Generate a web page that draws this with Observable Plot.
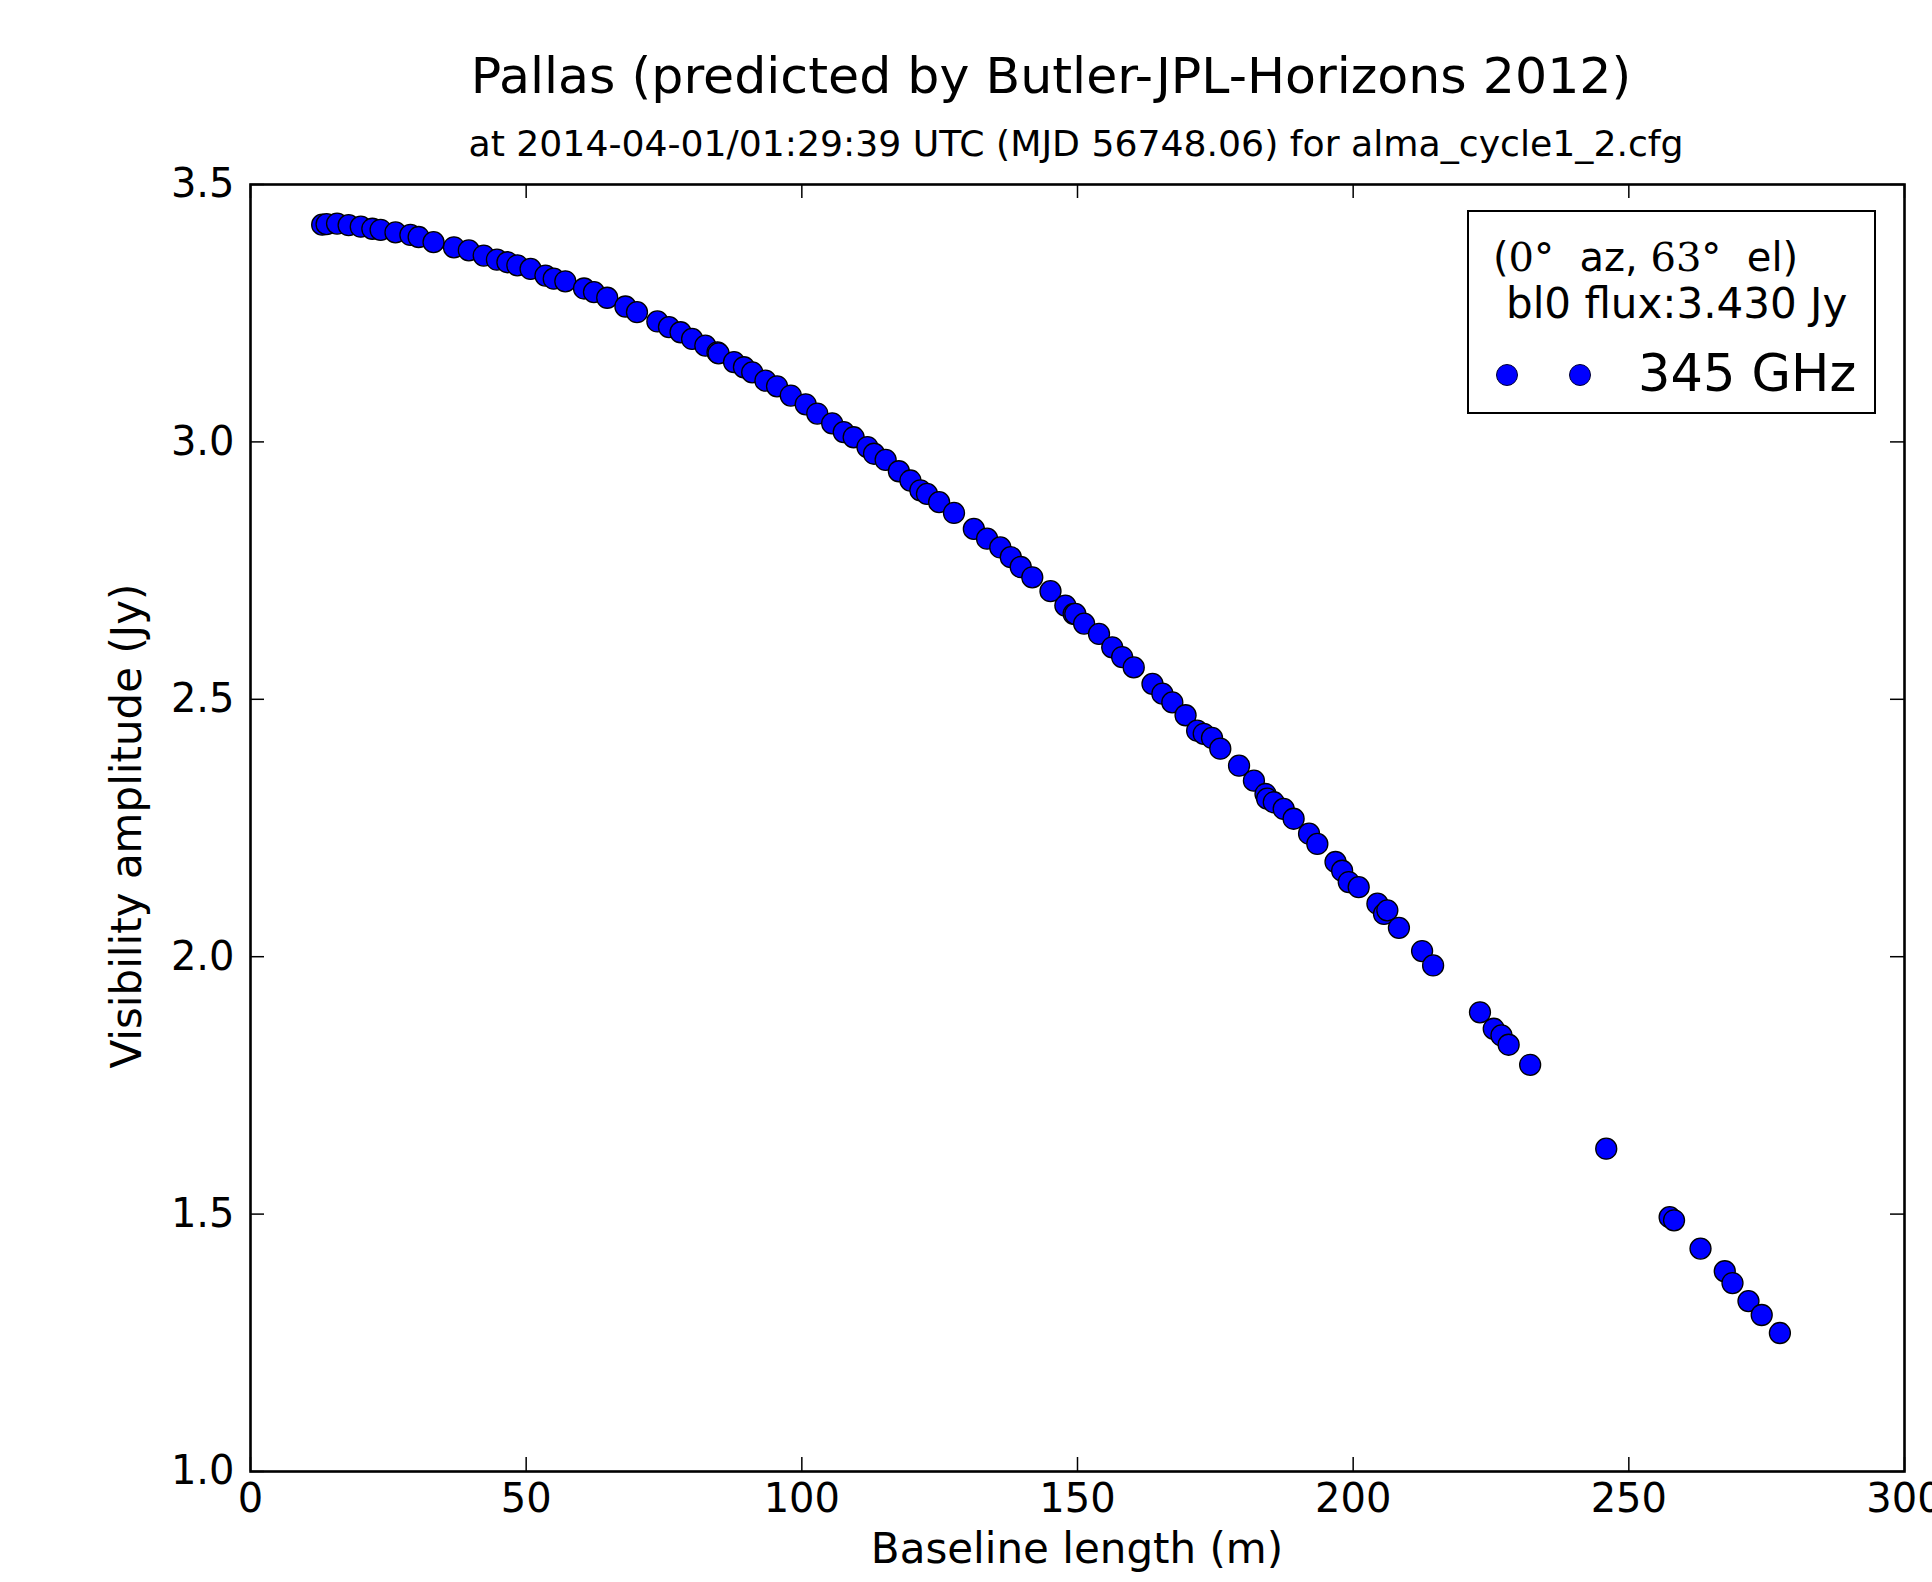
<!DOCTYPE html>
<html>
<head>
<meta charset="utf-8">
<script src="https://cdn.jsdelivr.net/npm/d3@7"></script>
<script src="https://cdn.jsdelivr.net/npm/@observablehq/plot@0.6"></script>
<style>
  body { margin: 0; background: #fff; }
  #wrap { position: relative; width: 1932px; height: 1582px; font-family: "DejaVu Sans", sans-serif; color: #000; overflow: hidden; }
  #wrap svg { position: absolute; left: 0; top: 0; }
  .abs { position: absolute; white-space: nowrap; line-height: 1; }
  .serif { font-family: "DejaVu Serif", "Liberation Serif", serif; }
  #legend { position: absolute; left: 1467px; top: 210px; width: 409px; height: 204px; box-sizing: border-box; border: 2.5px solid #000; background: #fff; }
  .ldot { position: absolute; width: 22px; height: 22px; border-radius: 50%; background: #0000ff; border: 1px solid #000033; box-sizing: border-box; transform: translate(-50%, -50%); }
</style>
</head>
<body>
<div id="wrap">
  <div class="abs" style="left:1051px; top:76px; font-size:50.6px; transform:translate(-50%,-50%);">Pallas (predicted by Butler-JPL-Horizons 2012)</div>
  <div class="abs" style="left:1076px; top:144px; font-size:36.2px; transform:translate(-50%,-50%);">at 2014-04-01/01:29:39 UTC (MJD 56748.06) for alma_cycle1_2.cfg</div>
  <div class="abs" style="left:1077px; top:1549px; font-size:42px; transform:translate(-50%,-50%);">Baseline length (m)</div>
  <div class="abs" style="left:127px; top:826px; font-size:42px; transform:translate(-50%,-50%) rotate(-90deg);">Visibility amplitude (Jy)</div>
</div>
<script>
// ---- data ----
const baseline = [
  13.0, 13.8, 15.7, 17.8, 20.0, 22.1, 23.6, 26.3, 29.0, 30.5,
  33.2, 36.9, 39.6, 42.3, 44.7, 46.6, 48.4, 50.8, 53.5, 55.0,
  57.1, 60.5, 62.3, 64.7, 68.0, 70.1, 73.8, 75.9, 78.0, 80.1,
  82.5, 84.7, 84.9, 87.7, 89.5, 91.0, 93.4, 95.5, 98.0, 100.7,
  102.8, 105.5, 107.6, 109.4, 111.9, 113.1, 115.2, 117.6, 119.7, 121.5,
  122.7, 124.9, 127.6, 131.2, 133.6, 136.0, 137.9, 139.7, 141.8, 145.1,
  147.8, 149.3, 149.6, 151.2, 153.9, 156.3, 158.1, 160.2, 163.6, 165.4,
  167.2, 169.6, 171.7, 172.9, 174.4, 175.9, 179.3, 182.0, 184.1, 184.4,
  185.6, 187.4, 189.2, 192.0, 193.5, 196.8, 198.0, 199.2, 201.0, 204.4,
  205.6, 206.2, 208.3, 212.5, 214.5, 223.0, 225.5, 226.9, 228.2, 232.1,
  245.9, 257.4, 258.2, 263.0, 267.4, 268.8, 271.7, 274.1, 277.4
];
const amplitude = [
  3.422, 3.423, 3.424, 3.421, 3.418, 3.414, 3.412, 3.407, 3.402, 3.398,
  3.388, 3.378, 3.372, 3.362, 3.354, 3.349, 3.343, 3.336, 3.323, 3.317,
  3.312, 3.298, 3.291, 3.280, 3.263, 3.252, 3.234, 3.223, 3.213, 3.200,
  3.187, 3.174, 3.172, 3.155, 3.145, 3.135, 3.119, 3.108, 3.090, 3.073,
  3.055, 3.036, 3.019, 3.009, 2.990, 2.977, 2.965, 2.943, 2.925, 2.906,
  2.899, 2.883, 2.862, 2.831, 2.812, 2.795, 2.776, 2.757, 2.737, 2.710,
  2.682, 2.666, 2.666, 2.647, 2.627, 2.601, 2.582, 2.562, 2.530, 2.511,
  2.494, 2.469, 2.439, 2.433, 2.425, 2.404, 2.371, 2.342, 2.316, 2.307,
  2.300, 2.287, 2.268, 2.239, 2.219, 2.184, 2.167, 2.145, 2.135, 2.103,
  2.083, 2.090, 2.056, 2.011, 1.983, 1.892, 1.860, 1.847, 1.829, 1.790,
  1.627, 1.494, 1.488, 1.433, 1.389, 1.366, 1.331, 1.304, 1.269
];
const xTicks = [0, 50, 100, 150, 200, 250, 300];
const yTicks = [1.0, 1.5, 2.0, 2.5, 3.0, 3.5];
const legendLabel = "345 GHz";

const points = baseline.map((b, i) => ({baseline: b, amplitude: amplitude[i]}));

const W = 1932, H = 1582;
const mL = 250, mR = 28, mT = 184, mB = 111;
const plotW = W - mL - mR, plotH = H - mT - mB;
const tickLen = 14;

const chart = Plot.plot({
  width: W,
  height: H,
  marginLeft: mL, marginRight: mR, marginTop: mT, marginBottom: mB,
  style: {fontFamily: "DejaVu Sans", fontSize: "40px", color: "#000", background: "transparent", overflow: "visible"},
  x: {domain: [0, 300]},
  y: {domain: [1.0, 3.5]},
  marks: [
    Plot.dot(points, {x: "baseline", y: "amplitude", r: 10.5, fill: "#0000ff", stroke: "#000", strokeWidth: 1.3}),
    // inward ticks on all four sides
    Plot.tickX(xTicks, {x: d => d, insetTop: plotH - tickLen, stroke: "#000", strokeWidth: 1.5}),
    Plot.tickX(xTicks, {x: d => d, insetBottom: plotH - tickLen, stroke: "#000", strokeWidth: 1.5}),
    Plot.tickY(yTicks, {y: d => d, insetRight: plotW - tickLen, stroke: "#000", strokeWidth: 1.5}),
    Plot.tickY(yTicks, {y: d => d, insetLeft: plotW - tickLen, stroke: "#000", strokeWidth: 1.5}),
    Plot.frame({stroke: "#000", strokeWidth: 2.6}),
    Plot.axisX({ticks: xTicks, tickSize: 0, tickPadding: 12, tickFormat: d3.format("d"), label: null}),
    Plot.axisY({ticks: yTicks, tickSize: 0, tickPadding: 16, tickFormat: d3.format(".1f"), label: null})
  ]
});

const wrap = document.getElementById("wrap");
wrap.insertBefore(chart, wrap.firstChild);

// legend box
const legend = document.createElement("div");
legend.id = "legend";
legend.innerHTML =
  '<div class="abs" style="left:24px; top:45px; font-size:40px; transform:translateY(-50%);">(<span class="serif">0°</span>&nbsp; az, <span class="serif">63°</span>&nbsp; el)</div>' +
  '<div class="abs" style="left:37px; top:92px; font-size:42px; transform:translateY(-50%);">bl0 flux:3.430 Jy</div>' +
  '<div class="ldot" style="left:38px; top:163px;"></div>' +
  '<div class="ldot" style="left:111px; top:163px;"></div>' +
  '<div class="abs" style="left:169px; top:161px; font-size:51px; transform:translateY(-50%);"></div>';
legend.lastChild.textContent = legendLabel;
wrap.appendChild(legend);
</script>
</body>
</html>
